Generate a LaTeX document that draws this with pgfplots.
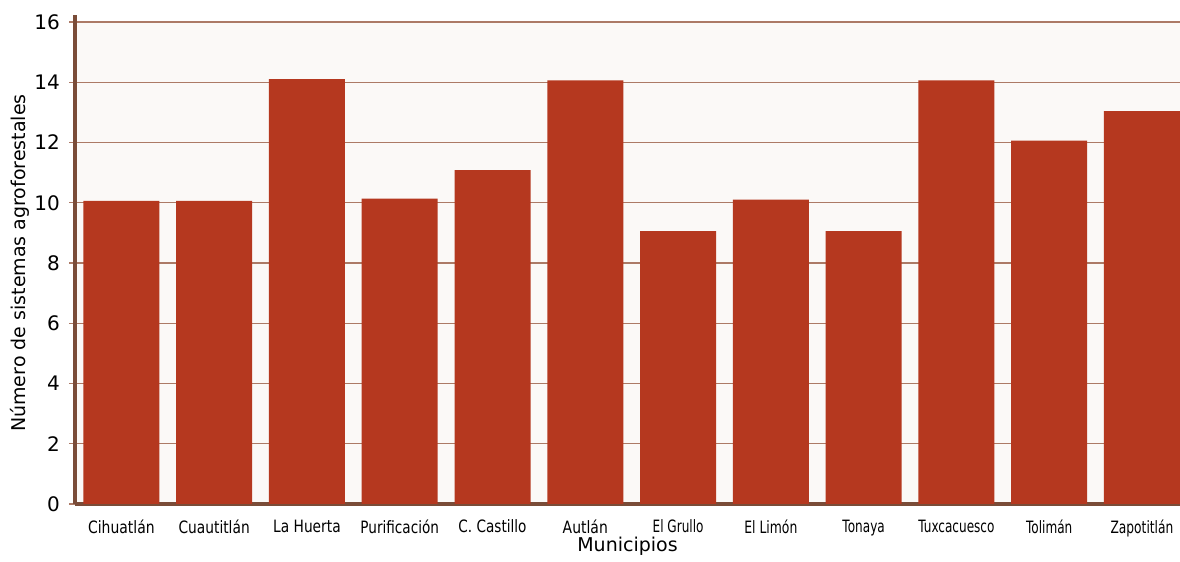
\documentclass[border=0pt]{standalone}
\usepackage{pgfplots}
\pgfplotsset{compat=1.18}
\usepackage{fontspec}
\setmainfont{DejaVu Sans}
\usepackage{graphicx}
\definecolor{barc}{RGB}{181,56,31}
\definecolor{gridc}{RGB}{172,122,102}
\definecolor{axc}{RGB}{122,76,56}
\definecolor{bgc}{RGB}{251,249,247}
\pgfplotsset{
  layers/mylayers/.define layer set={axis background,axis grid,axis ticks,main,axis lines,axis tick labels,axis descriptions,axis foreground}{},
}
\newcommand{\xl}[2]{\scalebox{#1}[1]{#2}}
\begin{document}
\begin{tikzpicture}
\begin{axis}[
  set layers=mylayers,
  scale only axis,
  width=552.5pt, height=241pt,
  xmin=-0.5, xmax=11.41,
  ymin=0, ymax=16,
  ytick={0,2,...,16},
  xtick={0,...,11},
  xticklabels={\xl{0.82}{Cihuatlán},\xl{0.81}{Cuautitlán},\xl{0.81}{La Huerta},\xl{0.80}{Purificación},\xl{0.80}{C. Castillo},\xl{0.82}{Autlán},\xl{0.71}{El Grullo},\xl{0.73}{El Limón},\xl{0.71}{Tonaya},\xl{0.71}{Tuxcacuesco},\xl{0.71}{Tolimán},\xl{0.72}{Zapotitlán}},
  x tick style={draw=none},
  y tick style={draw=gridc, line width=0.6pt},
  major tick length=3pt,
  tick align=outside,
  ymajorgrids,
  grid style={draw=gridc, line width=0.6pt},
  axis x line*=bottom,
  axis y line*=left,
  axis line style={draw=axc, line width=1.6pt},
  y axis line style={shorten >=-3.5pt},
  x axis line style={-},
  axis background/.style={fill=bgc},
  /pgf/number format/assume math mode=true,
  yticklabel style={font=\fontsize{10}{12}\selectfont, xshift=-1pt},
  xticklabel style={font=\fontsize{8.5}{10}\selectfont, yshift=-1.5pt},
  ylabel={Número de sistemas agroforestales},
  xlabel={Municipios},
  label style={font=\fontsize{9.5}{11}\selectfont},
  ylabel style={yshift=-4.5pt},
  xlabel style={yshift=7pt},
  ybar, bar width=38pt,
]
\addplot[fill=barc, draw=none] coordinates {
(0,10.06) (1,10.06) (2,14.1) (3,10.14) (4,11.08) (5,14.06) (6,9.06) (7,10.1) (8,9.06) (9,14.06) (10,12.06) (11,13.04)
};
\end{axis}
\pgfresetboundingbox
\useasboundingbox (-37.5pt,-29pt) rectangle (552.5pt,252pt);
\end{tikzpicture}
\end{document}
